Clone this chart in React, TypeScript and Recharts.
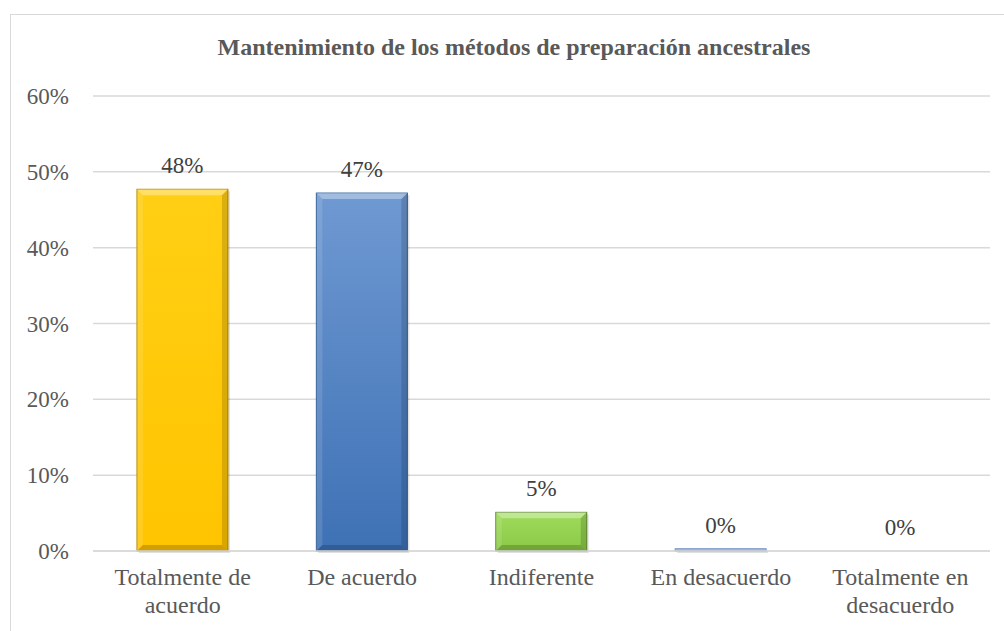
import { BarChart, Bar, XAxis, YAxis, CartesianGrid, LabelList, Cell } from 'recharts';

const categories = ['Totalmente de acuerdo', 'De acuerdo', 'Indiferente', 'En desacuerdo', 'Totalmente en desacuerdo'];
const values = [0.477, 0.472, 0.051, 0.003, 0];
const yTicks = [0, 0.1, 0.2, 0.3, 0.4, 0.5, 0.6];

// colour sets per bar: [top, bottom, edge]
const palette = [
  ['#ffcf14', '#ffc400', '#b58a00'],
  ['#6f99d2', '#3e71b5', '#2d5a94'],
  ['#9fdc5c', '#8cc846', '#5e8f2a'],
  ['#a9c0e0', '#8eaad6', '#7a97c4'],
  ['#a9c0e0', '#8eaad6', '#7a97c4'],
];

const data = categories.map((name, i) => ({ name, value: values[i] }));

const FONT = 'Liberation Serif, Tinos, DejaVu Serif, serif';
const pct = (v: number) => `${Math.round(v * 100)}%`;

function BevelBar(props: any) {
  const { x, y, width, height, index } = props;
  if (!height || height <= 0) return null;
  const [, , edge] = palette[index];
  const b = Math.min(6, height / 2, width / 2);
  return (
    <g>
      <rect x={x + 2} y={y + 2} width={width} height={height} fill="rgba(0,0,0,0.12)" />
      <rect x={x} y={y} width={width} height={height} fill={`url(#grad${index})`} stroke={edge} strokeWidth={1} />
      {height > 4 && (
        <>
          <polygon points={`${x},${y} ${x + width},${y} ${x + width - b},${y + b} ${x + b},${y + b}`} fill="rgba(255,255,255,0.35)" />
          <polygon points={`${x},${y} ${x + b},${y + b} ${x + b},${y + height - b} ${x},${y + height}`} fill="rgba(255,255,255,0.12)" />
          <polygon points={`${x + width},${y} ${x + width - b},${y + b} ${x + width - b},${y + height - b} ${x + width},${y + height}`} fill="rgba(0,0,0,0.15)" />
          <polygon points={`${x},${y + height} ${x + b},${y + height - b} ${x + width - b},${y + height - b} ${x + width},${y + height}`} fill="rgba(0,0,0,0.18)" />
        </>
      )}
    </g>
  );
}

function CategoryTick(props: any) {
  const { x, y, payload } = props;
  const words: string[] = payload.value.split(' ');
  const lines: string[] = [];
  let cur = '';
  words.forEach(w => {
    const next = cur ? `${cur} ${w}` : w;
    if (next.length > 15 && cur) {
      lines.push(cur);
      cur = w;
    } else cur = next;
  });
  lines.push(cur);
  return (
    <text x={x} y={y} textAnchor="middle" fill="#595959" fontSize={24} style={{ fontFamily: FONT }}>
      {lines.map((l, i) => (
        <tspan key={i} x={x} dy={i === 0 ? 26 : 28}>{l}</tspan>
      ))}
    </text>
  );
}

export default function App() {
  return (
    <div style={{ position: 'absolute', left: 0, top: 0, width: 1004, height: 631, overflow: 'hidden', background: '#fff', fontFamily: FONT }}>
      <div style={{ position: 'absolute', left: 10, top: 14, width: 1010, height: 640, border: '1px solid #d9d9d9', boxSizing: 'border-box' }} />
      <div style={{ position: 'absolute', left: 0, top: 34, width: 1028, textAlign: 'center', fontWeight: 'bold', fontSize: 24, color: '#595959' }}>
        Mantenimiento de los métodos de preparación ancestrales
      </div>
      <div style={{ position: 'absolute', left: 10, top: 14 }}>
        <BarChart width={994} height={617} data={data} margin={{ top: 82, right: 14, bottom: 10, left: 0 }} barCategoryGap="24.5%" style={{ fontFamily: FONT }}>
          <defs>
            {palette.map((p, i) => (
              <linearGradient key={i} id={`grad${i}`} x1="0" y1="0" x2="0" y2="1">
                <stop offset="0%" stopColor={p[0]} />
                <stop offset="100%" stopColor={p[1]} />
              </linearGradient>
            ))}
          </defs>
          <CartesianGrid vertical={false} stroke="#d9d9d9" strokeWidth={1.5} />
          <XAxis
            dataKey="name"
            tick={<CategoryTick />}
            tickLine={false}
            axisLine={{ stroke: '#d9d9d9', strokeWidth: 1.5 }}
            interval={0}
            height={70}
          />
          <YAxis
            domain={[0, 0.6]}
            ticks={yTicks}
            tickFormatter={pct}
            tick={{ fill: '#595959', fontSize: 23, style: { fontFamily: FONT } }}
            tickLine={false}
            axisLine={false}
            tickSize={0}
            tickMargin={24}
            width={83}
          />
          <Bar dataKey="value" shape={<BevelBar />} isAnimationActive={false}>
            {data.map((_, i) => (
              <Cell key={i} fill={palette[i][1]} />
            ))}
            <LabelList
              dataKey="value"
              position="top"
              offset={16}
              formatter={(v: any) => pct(Number(v))}
              style={{ fill: '#404040', fontSize: 23, fontFamily: FONT }}
            />
          </Bar>
        </BarChart>
      </div>
    </div>
  );
}
